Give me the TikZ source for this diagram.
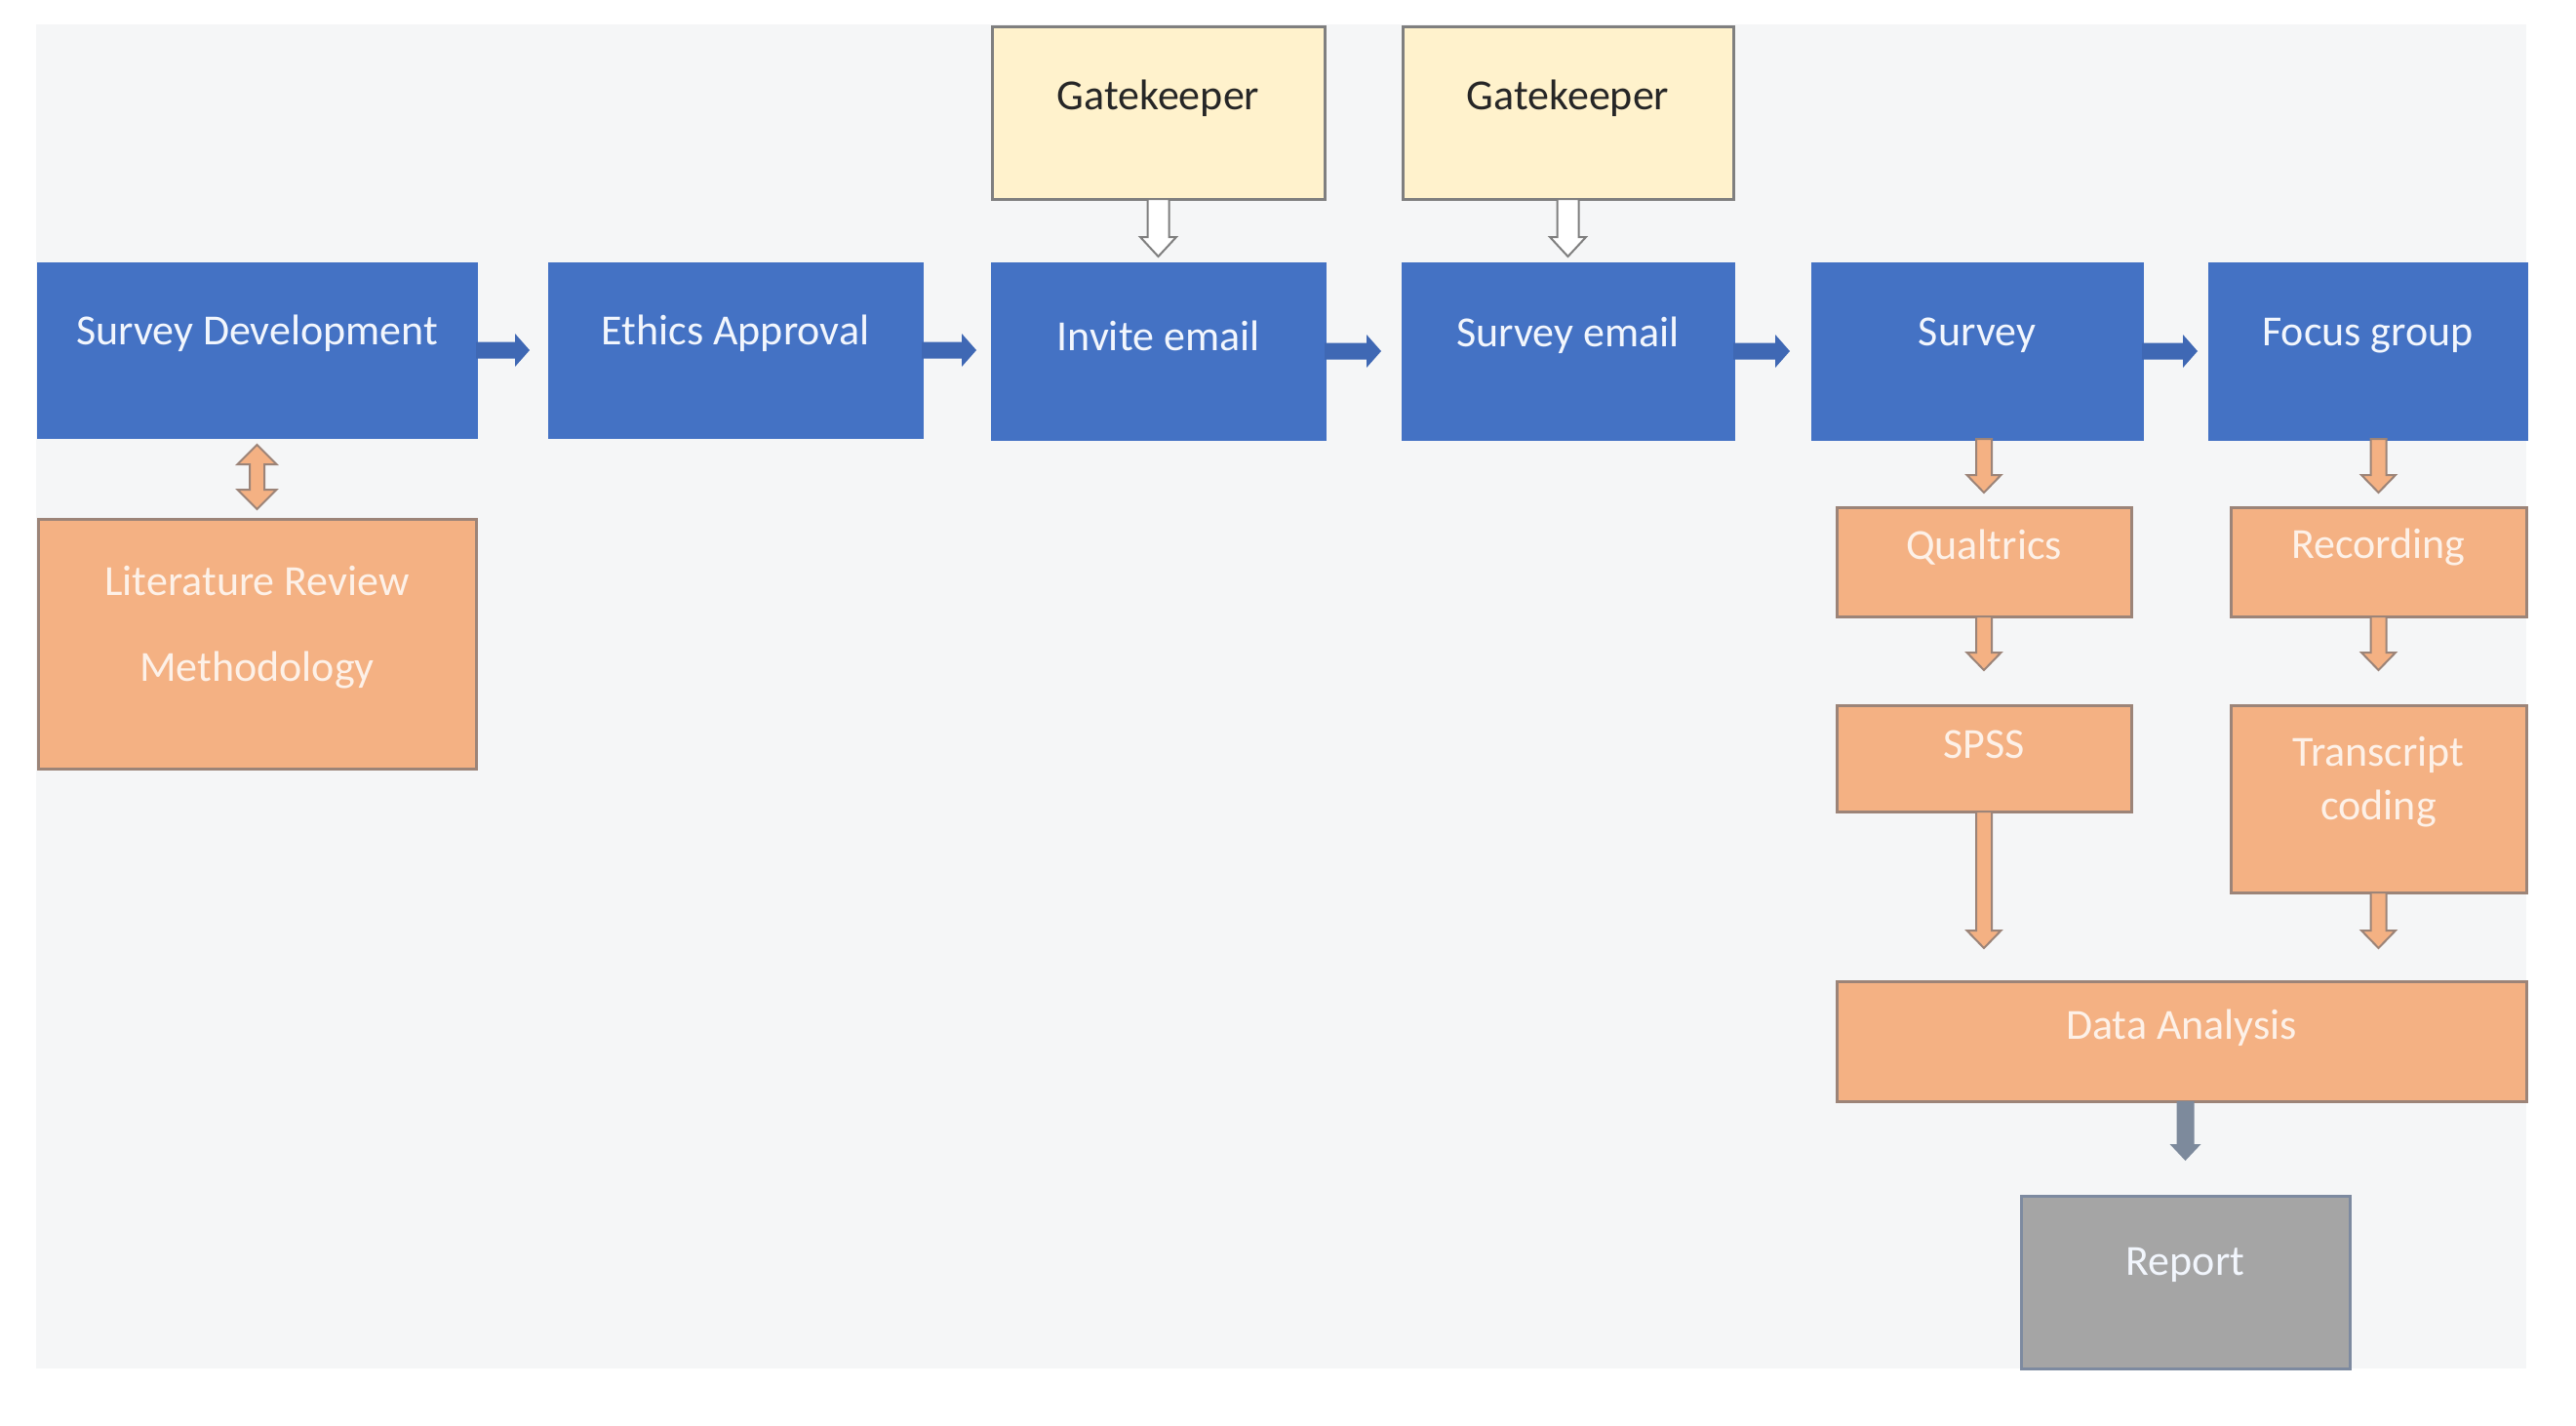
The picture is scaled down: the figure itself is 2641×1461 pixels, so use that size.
\documentclass[tikz,border=0pt]{standalone}
\usepackage{fontspec}
\setmainfont{Carlito}
\usetikzlibrary{calc}
\definecolor{bgc}{HTML}{F5F6F7}
\definecolor{blu}{HTML}{4472C4}
\definecolor{bluarr}{HTML}{3F68B4}
\definecolor{ora}{HTML}{F4B183}
\definecolor{oraline}{HTML}{9C8478}
\definecolor{oratxt}{HTML}{FDF1E8}
\definecolor{yel}{HTML}{FFF2CC}
\definecolor{yelline}{HTML}{7F7F7F}
\definecolor{gry}{HTML}{A5A5A5}
\definecolor{gryline}{HTML}{7D8AA0}
\definecolor{gryarr}{HTML}{7D8A9C}
\definecolor{bluetxt}{HTML}{F2F6FD}
\tikzset{
  box/.style={rectangle, inner sep=0pt, outer sep=0pt, line width=0.9pt},
  bluebox/.style={box, fill=blu, draw=blu},
  orabox/.style={box, fill=ora, draw=oraline},
  yelbox/.style={box, fill=yel, draw=yelline},
  grybox/.style={box, fill=gry, draw=gryline},
  txt/.style={font=\fontsize{13.2pt}{16pt}\selectfont, text=bluetxt, align=center, inner sep=0pt},
  oratxtst/.style={txt, text=oratxt},
  darktxt/.style={txt, text=black!85},
  bluearrow/.style={fill=bluarr},
  oraarrow/.style={fill=ora, draw=oraline, line width=0.6pt},
  hollowarrow/.style={fill=white, draw=yelline, line width=0.6pt},
  greyarrow/.style={fill=gryarr},
}
% box: name, box style, text style, x1, y1, x2, y2, text, text centre y
\newcommand\bx[9]{\node[#2, minimum width={(#6-#4)*0.3pt}, minimum height={(#7-#5)*0.3pt},
  label={[#3, yshift={((#5+#7)/2-#9)*0.3pt}]center:{#8}}] (#1) at ({(#4+#6)/2},{(#5+#7)/2}) {};}
% down block arrow: style, from, tip, shaft half, head half, head length
\newcommand\darr[6]{\path[#1] let \p1=(#2), \p2=(#3) in
  (\x1-#4,\y1) -- (\x1-#4,\y2+#6) -- (\x1-#5,\y2+#6) -- (\x1,\y2) -- (\x1+#5,\y2+#6) -- (\x1+#4,\y2+#6) -- (\x1+#4,\y1) -- cycle;}
% right block arrow
\newcommand\rarr[6]{\path[#1] let \p1=(#2), \p2=(#3) in
  (\x1,\y1-#4) -- (\x2-#6,\y1-#4) -- (\x2-#6,\y1-#5) -- (\x2,\y1) -- (\x2-#6,\y1+#5) -- (\x2-#6,\y1+#4) -- (\x1,\y1+#4) -- cycle;}
% double vertical block arrow
\newcommand\udarr[6]{\path[#1] let \p1=(#2), \p2=(#3) in
  (\x1,\y1) -- (\x1+#5,\y1-#6) -- (\x1+#4,\y1-#6) -- (\x1+#4,\y2+#6) -- (\x1+#5,\y2+#6) -- (\x1,\y2)
  -- (\x1-#5,\y2+#6) -- (\x1-#4,\y2+#6) -- (\x1-#4,\y1-#6) -- (\x1-#5,\y1-#6) -- cycle;}
\begin{document}
\begin{tikzpicture}[x=0.3pt, y=-0.3pt]
\useasboundingbox (0,0) rectangle (2641,1461);
\fill[white] (0,0) rectangle (2641,1461);
\fill[bgc] (37,25) rectangle (2590,1403);
% gatekeepers
\bx{gk1}{yelbox}{darktxt}{1017}{27}{1358}{204}{Gatekeeper}{101}
\bx{gk2}{yelbox}{darktxt}{1438}{27}{1777}{204}{Gatekeeper}{101}
% main row
\bx{sd}{bluebox}{txt}{39}{270}{488}{448}{Survey Development}{342}
\bx{ea}{bluebox}{txt}{563}{270}{945}{448}{Ethics Approval}{342}
\bx{ie}{bluebox}{txt}{1017}{270}{1358}{450}{Invite email}{344}
\bx{se}{bluebox}{txt}{1438}{270}{1777}{450}{Survey email}{344}
\bx{sv}{bluebox}{txt}{1858}{270}{2196}{450}{Survey}{344}
\bx{fg}{bluebox}{txt}{2265}{270}{2590}{450}{Focus group}{344}
% orange boxes
\bx{lit}{orabox}{oratxtst}{39}{532}{488}{788}{Literature Review\\[10.6pt]Methodology}{643}
\bx{qu}{orabox}{oratxtst}{1883}{520}{2185}{632}{Qualtrics}{561}
\bx{sp}{orabox}{oratxtst}{1883}{723}{2185}{832}{SPSS}{763}
\bx{rec}{orabox}{oratxtst}{2287}{520}{2590}{632}{Recording}{561}
\bx{tc}{orabox}{oratxtst}{2287}{723}{2590}{915}{Transcript\\[0.5pt]coding}{802}
\bx{da}{orabox}{oratxtst}{1883}{1006}{2590}{1129}{Data Analysis}{1054}
\bx{rp}{grybox}{txt}{2072}{1226}{2409}{1403}{Report}{1297}
% blue right arrows
\rarr{bluearrow}{sd.east}{$(ea.west)+(-20,0)$}{2.55pt}{5.1pt}{4.5pt}
\rarr{bluearrow}{ea.east}{$(ie.west)+(-16,0)$}{2.55pt}{5.1pt}{4.5pt}
\rarr{bluearrow}{ie.east}{$(se.west)+(-22,0)$}{2.55pt}{5.1pt}{4.5pt}
\rarr{bluearrow}{se.east}{$(sv.west)+(-23,0)$}{2.55pt}{5.1pt}{4.5pt}
\rarr{bluearrow}{sv.east}{$(fg.west)+(-12,0)$}{2.55pt}{5.1pt}{4.5pt}
% gatekeeper hollow arrows
\darr{hollowarrow}{gk1.south}{$(ie.north)+(0,-7)$}{3.3pt}{5.55pt}{6pt}
\darr{hollowarrow}{gk2.south}{$(se.north)+(0,-7)$}{3.3pt}{5.55pt}{6pt}
% double arrow
\udarr{oraarrow}{$(sd.south)+(0,8)$}{$(lit.north)+(0,-10)$}{2.25pt}{6pt}{6pt}
% orange down arrows
\darr{oraarrow}{sv.south -| qu.north}{$(qu.north)+(0,-15)$}{2.4pt}{5.25pt}{5.4pt}
\darr{oraarrow}{qu.south}{$(sp.north)+(0,-36)$}{2.4pt}{5.25pt}{5.4pt}
\darr{oraarrow}{sp.south}{$(da.north -| sp.south)+(0,-34)$}{2.4pt}{5.25pt}{5.4pt}
\darr{oraarrow}{fg.south -| rec.north}{$(rec.north)+(0,-15)$}{2.4pt}{5.25pt}{5.4pt}
\darr{oraarrow}{rec.south}{$(tc.north)+(0,-36)$}{2.4pt}{5.25pt}{5.4pt}
\darr{oraarrow}{tc.south}{$(da.north -| tc.south)+(0,-34)$}{2.4pt}{5.25pt}{5.4pt}
% grey arrow
\darr{greyarrow}{da.south -| rp.north}{$(rp.north)+(0,-36)$}{2.7pt}{4.8pt}{5.1pt}
\end{tikzpicture}
\end{document}
